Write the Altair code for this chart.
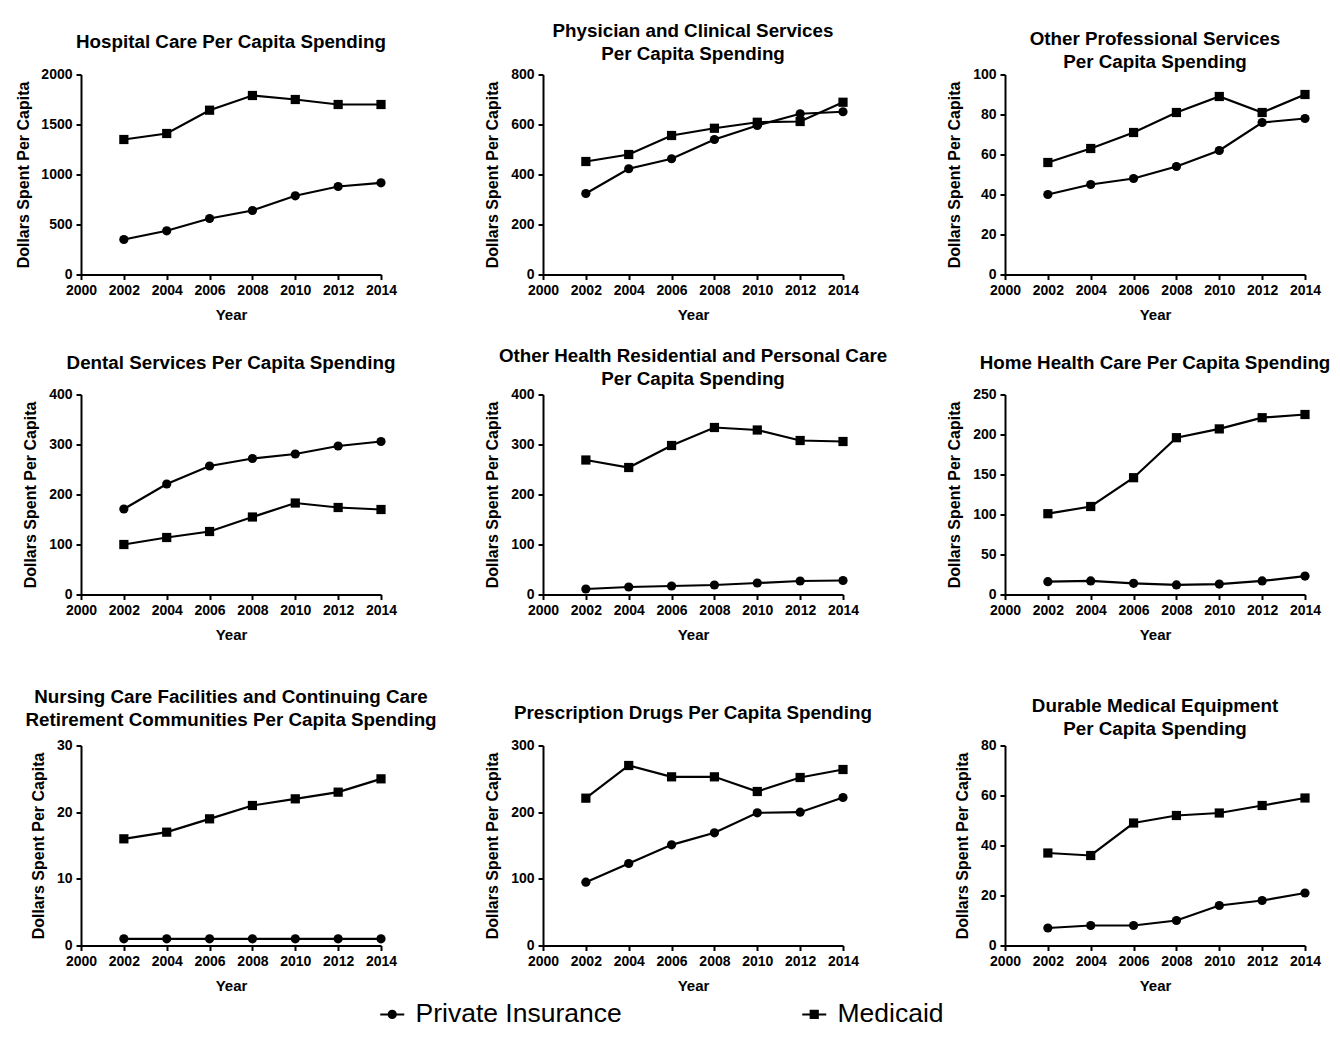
import altair as alt
import pandas as pd

# ---------------- data ----------------
years = [2002, 2004, 2006, 2008, 2010, 2012, 2014]
series_names = ["Private Insurance", "Medicaid"]
marker_shapes = ["circle", "square"]

hospital_private = [350, 437, 560, 640, 787, 880, 917]
hospital_medicaid = [1350, 1410, 1643, 1790, 1750, 1700, 1700]
physician_private = [324, 423, 463, 540, 596, 643, 651]
physician_medicaid = [452, 480, 556, 585, 609, 612, 689]
otherprof_private = [40, 45, 48, 54, 62, 76, 78]
otherprof_medicaid = [56, 63, 71, 81, 89, 81, 90]
dental_private = [171, 221, 257, 272, 281, 297, 306]
dental_medicaid = [100, 114, 126, 155, 183, 174, 170]
otherhealth_private = [11, 15, 17, 19, 23, 27, 28]
otherhealth_medicaid = [269, 254, 298, 334, 329, 308, 306]
home_private = [16, 17, 14, 12, 13, 17, 23]
home_medicaid = [101, 110, 146, 196, 207, 221, 225]
nursing_private = [1, 1, 1, 1, 1, 1, 1]
nursing_medicaid = [16, 17, 19, 21, 22, 23, 25]
rx_private = [95, 123, 151, 169, 199, 200, 222]
rx_medicaid = [221, 270, 253, 253, 231, 252, 264]
dme_private = [7, 8, 8, 10, 16, 18, 21]
dme_medicaid = [37, 36, 49, 52, 53, 56, 59]

x_ticks = [2000, 2002, 2004, 2006, 2008, 2010, 2012, 2014]

FONT = "Liberation Sans"

CIRCLE_PATH = "M-1,0L1,0M-0.3,0A0.3,0.3,0,1,1,0.3,0A0.3,0.3,0,1,1,-0.3,0Z"
SQUARE_PATH = "M-1,0L1,0M-0.3,-0.3L0.3,-0.3L0.3,0.3L-0.3,0.3Z"

legend = alt.Legend(
    title=None,
    orient="none",
    legendX=298,
    legendY=926.5,
    direction="horizontal",
    labelFont=FONT,
    labelFontSize=26.5,
    labelFontWeight="normal",
    labelColor="black",
    labelLimit=500,
    labelOffset=10,
    symbolSize=576,
    symbolType={"expr": "datum.value === 'Medicaid' ? '" + SQUARE_PATH + "' : '" + CIRCLE_PATH + "'"},
    symbolStrokeWidth=2,
    symbolStrokeColor="black",
    symbolFillColor="black",
    columnPadding=176,
    padding=0,
)


def panel(title_lines, priv, med, ymax, ystep, toff, tpad):
    df = pd.DataFrame({
        "Year": years + years,
        "Value": priv + med,
        "Series": [series_names[0]] * len(years) + [series_names[1]] * len(years),
        "Marker": [marker_shapes[0]] * len(years) + [marker_shapes[1]] * len(years),
    })
    base = alt.Chart(df).encode(
        x=alt.X("Year:Q",
                scale=alt.Scale(domain=[2000, 2014], nice=False, zero=False),
                axis=alt.Axis(values=x_ticks, format="d", title="Year")),
        y=alt.Y("Value:Q",
                scale=alt.Scale(domain=[0, ymax], nice=False),
                axis=alt.Axis(values=list(range(0, ymax + 1, ystep)), format="d",
                              title="Dollars Spent Per Capita", titlePadding=tpad)),
    )
    line = base.mark_line(color="black", strokeWidth=2.2).encode(detail="Series:N")
    pts = base.mark_point(filled=True, size=85, opacity=1).encode(
        shape=alt.Shape("Marker:N", scale=None, legend=None),
        color=alt.Color("Series:N",
                        scale=alt.Scale(domain=series_names, range=["black", "black"]),
                        legend=legend),
    )
    return alt.layer(line, pts).properties(
        width=300, height=200,
        title=alt.TitleParams(text=title_lines, fontSize=18.8, fontWeight="bold", font=FONT,
                              color="black", anchor="middle", frame="group",
                              lineHeight=23, offset=toff),
    )


p1 = panel(["Hospital Care Per Capita Spending"], hospital_private, hospital_medicaid, 2000, 500, 15.5, 9)
p2 = panel(["Physician and Clinical Services", "Per Capita Spending"], physician_private, physician_medicaid, 800, 200, 3.5, 10)
p3 = panel(["Other Professional Services", "Per Capita Spending"], otherprof_private, otherprof_medicaid, 100, 20, -4.5, 10)
p4 = panel(["Dental Services Per Capita Spending"], dental_private, dental_medicaid, 400, 100, 14.5, 10)
p5 = panel(["Other Health Residential and Personal Care", "Per Capita Spending"], otherhealth_private, otherhealth_medicaid, 400, 100, -1.5, 10)
p6 = panel(["Home Health Care Per Capita Spending"], home_private, home_medicaid, 250, 50, 14.5, 10)
p7 = panel(["Nursing Care Facilities and Continuing Care", "Retirement Communities Per Capita Spending"], nursing_private, nursing_medicaid, 30, 10, 9, 10)
p8 = panel(["Prescription Drugs Per Capita Spending"], rx_private, rx_medicaid, 300, 100, 16, 10)
p9 = panel(["Durable Medical Equipment", "Per Capita Spending"], dme_private, dme_medicaid, 80, 20, 0, 10)

row1 = alt.HConcatChart(hconcat=[p1, p2, p3], spacing=162, bounds="flush")
row2 = alt.HConcatChart(hconcat=[p4, p5, p6], spacing=162, bounds="flush")
row3 = alt.HConcatChart(hconcat=[p7, p8, p9], spacing=162, bounds="flush")

lower = alt.ConcatChart(concat=[row2, row3], columns=1, align="none", spacing=45)

chart = alt.ConcatChart(
    concat=[row1, lower], columns=1, align="none", spacing=24,
    padding={"left": 7, "top": 13.5, "right": 0, "bottom": 0},
    background="white",
).configure_view(
    stroke=None
).configure_axis(
    grid=False,
    domainColor="black", domainWidth=2,
    tickColor="black", tickWidth=2, tickSize=5,
    labelFont=FONT, labelFontSize=14, labelFontWeight="bold", labelColor="black",
    labelPadding=4, labelOverlap=False, labelFlush=False,
    titleFont=FONT, titleFontSize=16, titleFontWeight="bold", titleColor="black",
).configure_axisX(
    titleFontSize=15, titlePadding=10,
)

chart.save("out.html", embed_options={"renderer": "svg", "actions": False})
